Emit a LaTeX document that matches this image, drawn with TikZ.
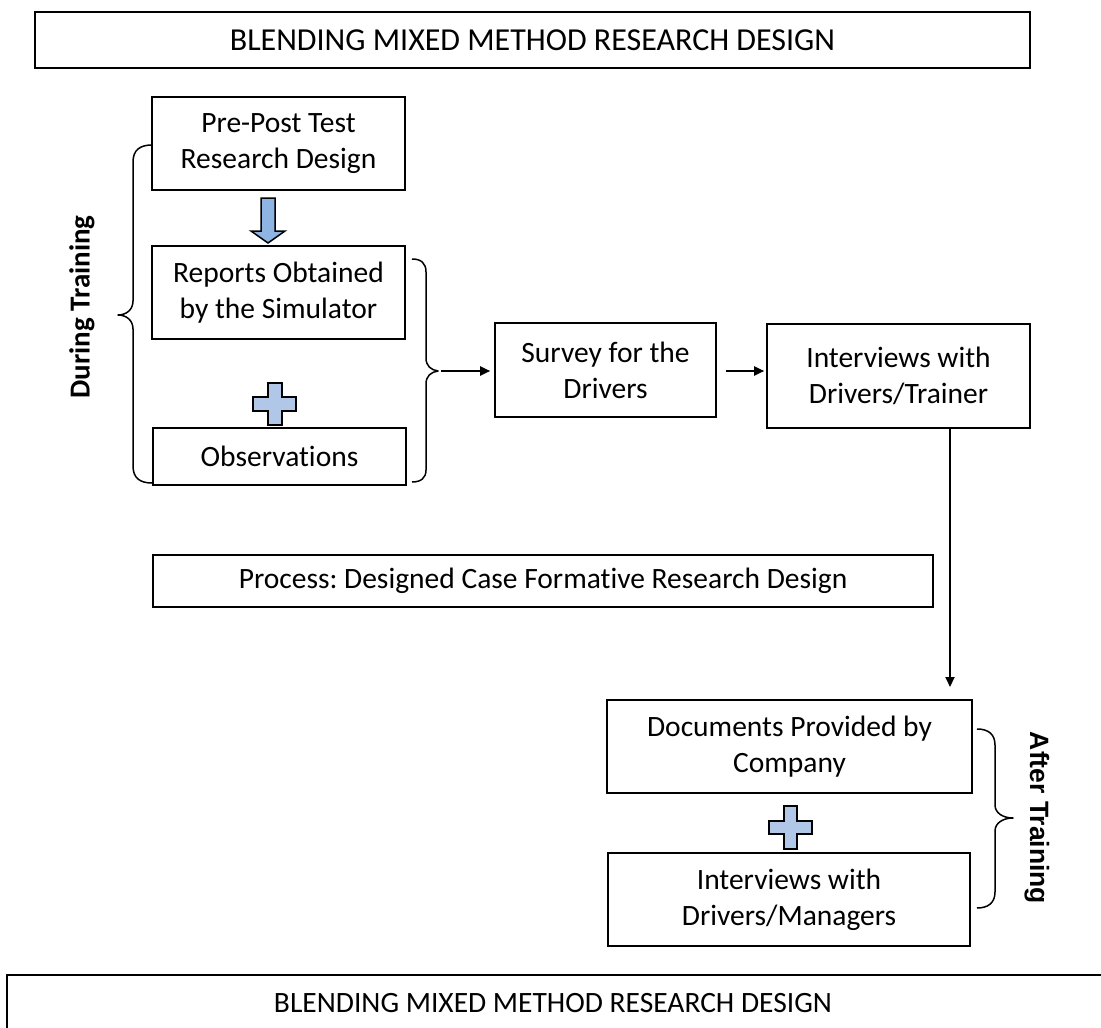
\documentclass[tikz,border=0pt]{standalone}
\usepackage{fontspec}
\setmainfont{Carlito}[RawFeature={-liga;-calt;-dlig;-clig}]
\newfontfamily\arialfont{Liberation Sans Bold}
\usetikzlibrary{arrows.meta}
\definecolor{arrowblue}{RGB}{142,180,227}
\definecolor{plusblue}{RGB}{176,199,232}
\frenchspacing
\begin{document}
\begin{tikzpicture}[x=1pt,y=-1pt,
  box/.style={draw,line width=1.6pt,align=center,inner sep=0pt,
    font=\fontsize{29.5}{36}\selectfont},
  brace/.style={line width=1.5pt,line join=round},
  flow/.style={line width=2pt,-{Triangle[length=10pt,width=9pt]}},
  shapeblue/.style={draw,line width=1.5pt,line join=miter}]
\useasboundingbox (0,0) rectangle (1101,1028);
\clip (0,0) rectangle (1101,1028);
\fill[white] (0,0) rectangle (1101,1028);

% title and process boxes
\node[box,minimum width=995pt,minimum height=56pt,font=\fontsize{32}{38}\selectfont]
  (title) at (532.5,40) {BLENDING MIXED METHOD RESEARCH DESIGN};
\node[box,minimum width=780pt,minimum height=52pt] (process) at (543,581)
  {Process: Designed Case Formative Research Design};

% during-training column
\node[box,minimum width=253pt,minimum height=93pt] (prepost) at (278.5,143.5)
  {Pre-Post Test\\Research Design};
\node[box,minimum width=253pt,minimum height=93pt] (reports) at (278.5,292.5)
  {Reports Obtained\\by the Simulator};
\node[box,minimum width=253pt,minimum height=57pt] (observ) at (279.5,456.5)
  {Observations};

% main flow
\node[box,minimum width=221pt,minimum height=94pt] (survey) at (605.5,370)
  {Survey for the\\Drivers};
\node[box,minimum width=263pt,minimum height=104pt] (inttr) at (898.5,376)
  {Interviews with\\Drivers/Trainer};

% after-training column
\node[box,minimum width=365pt,minimum height=93pt] (docs) at (789.5,746.5)
  {Documents Provided by\\Company};
\node[box,minimum width=362pt,minimum height=93pt] (intmg) at (789,899.5)
  {Interviews with\\Drivers/Managers};

% block arrow between the first two boxes
\filldraw[shapeblue,fill=arrowblue]
  (261,198) -- (275,198) -- (275,231) -- (285,231) -- (268,243)
  -- (251,231) -- (261,231) -- cycle;

% plus signs
\filldraw[shapeblue,fill=plusblue]
  (268,383) -- (282,383) -- (282,397) -- (296,397) -- (296,411) -- (282,411)
  -- (282,425) -- (268,425) -- (268,411) -- (253,411) -- (253,397) -- (268,397) -- cycle;
\filldraw[shapeblue,fill=plusblue]
  (784,806) -- (797,806) -- (797,821) -- (812,821) -- (812,834) -- (797,834)
  -- (797,849) -- (784,849) -- (784,834) -- (769,834) -- (769,821) -- (784,821) -- cycle;

% braces
\draw[brace] (152,145) .. controls (140,145) and (133,150) .. (133,162)
  -- (133,301) .. controls (133,310) and (126,315) .. (118,315)
  .. controls (126,315) and (133,320) .. (133,329)
  -- (133,466) .. controls (133,478) and (140,483) .. (152,483);
\draw[brace] (412,259) .. controls (421,259) and (426,263) .. (426,272)
  -- (426,358) .. controls (426,366) and (431,370) .. (438,371)
  .. controls (431,372) and (426,376) .. (426,384)
  -- (426,470) .. controls (426,478) and (421,482) .. (412,482);
\draw[brace] (977,729) .. controls (988,729) and (995,734) .. (995,745)
  -- (995,805) .. controls (995,813) and (1003,818) .. (1013,818)
  .. controls (1003,818) and (995,823) .. (995,831)
  -- (995,892) .. controls (995,903) and (988,908) .. (977,908);

% side labels
\node[rotate=90,font=\fontsize{29}{34}\selectfont\bfseries] (during) at (82,307)
  {During Training};
\node[rotate=-90,font=\arialfont\fontsize{26.5}{31}\selectfont] (after) at (1037,818)
  {After Training};

% connectors
\coordinate (btip) at (441,371);
\coordinate (dtip) at (950,687);
\draw[flow,shorten >=4pt] (btip) -- (survey.west |- btip);
\draw[flow,shorten <=9pt,shorten >=2pt] (survey.east |- btip) -- (inttr.west |- btip);
\draw[flow] (inttr.south -| dtip) -- (dtip);

% bottom box, running off the page
\draw[line width=2pt] (7,1040) -- (7,975) -- (1110,975);
\node[font=\fontsize{29.5}{36}\selectfont] (bottomtitle) at (553,1003)
  {BLENDING MIXED METHOD RESEARCH DESIGN};
\end{tikzpicture}
\end{document}
